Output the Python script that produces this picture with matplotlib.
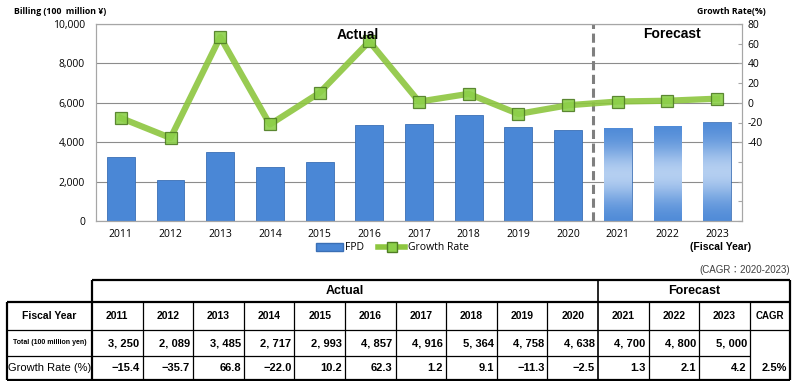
import matplotlib
matplotlib.use("Agg")
import matplotlib.pyplot as plt
import numpy as np
from matplotlib.patches import Patch
from matplotlib.lines import Line2D

years = ["2011", "2012", "2013", "2014", "2015", "2016", "2017",
         "2018", "2019", "2020", "2021", "2022", "2023"]
billing = [3250, 2089, 3485, 2717, 2993, 4857, 4916, 5364, 4758, 4638, 4700, 4800, 5000]
growth = [-15.4, -35.7, 66.8, -22.0, 10.2, 62.3, 1.2, 9.1, -11.3, -2.5, 1.3, 2.1, 4.2]
n_actual = 10
cagr = "2.5%"
left_ticks = [0, 2000, 4000, 6000, 8000, 10000]
right_ticks = [-120, -100, -80, -60, -40, -20, 0, 20, 40, 60, 80]

W, H = 799, 381
fig = plt.figure(figsize=(W / 100, H / 100), dpi=100)

def fx(px):
    return px / W

def fy(py):
    return 1 - py / H

ax = fig.add_axes([fx(96), fy(221), fx(742) - fx(96), fy(24) - fy(221)])
ax2 = ax.twinx()

bar_blue = "#4a87d6"
x = np.arange(len(years))
bars = ax.bar(x, billing, width=0.56, color=bar_blue, edgecolor="#3a6fb5",
              linewidth=0.6, zorder=2)

# forecast bars: vertical gradient (blue ends, pale middle)
grad = np.linspace(0, 1, 256)
shade = 1 - 0.65 * np.exp(-((grad - 0.5) / 0.3) ** 2)
c_dark = np.array([0.29, 0.53, 0.84])
c_light = np.array([0.93, 0.96, 1.0])
img = (c_light[None, :] * (1 - shade[:, None]) + c_dark[None, :] * shade[:, None])
img = img[:, None, :].repeat(4, axis=1)
for i in range(n_actual, len(years)):
    b = bars[i]
    b.set_facecolor("none")
    bx, bw, bh = b.get_x(), b.get_width(), b.get_height()
    im = ax.imshow(img, extent=[bx, bx + bw, 0, bh], aspect="auto", zorder=2,
                   interpolation="bilinear")
    im.set_clip_path(b)

ax.set_xlim(-0.5, len(years) - 0.5)
ax.set_ylim(0, 10000)
ax.set_yticks(left_ticks)
ax.set_yticklabels([f"{v:,}" for v in left_ticks], fontsize=7.5, family="Open Sans")
ax.set_xticks(x)
ax.set_xticklabels(years, fontsize=7.5, family="Open Sans")
ax.tick_params(axis="y", length=0, pad=8)
ax.tick_params(axis="x", length=0, pad=6)
ax.grid(axis="y", color="#8c8c8c", linewidth=0.8, zorder=0)
ax.set_axisbelow(True)
for s in ax.spines.values():
    s.set_color("#a6a6a6")
    s.set_linewidth(0.8)

ax2.plot(x, growth, color="#8dc63f", linewidth=4.5, alpha=0.9, zorder=3,
         marker="s", markersize=9, markerfacecolor="#8cd04a",
         markeredgecolor="#4f7d24", markeredgewidth=0.9)
ax2.set_ylim(-120, 80)
ax2.set_yticks(right_ticks)
ax2.set_yticklabels([str(v) if v >= -40 else "" for v in right_ticks],
                    fontsize=7.5, family="Open Sans")
ax2.tick_params(axis="y", direction="in", length=3, color="#a6a6a6", pad=4)
for s in ax2.spines.values():
    s.set_color("#a6a6a6")
    s.set_linewidth(0.8)

ax.axvline(n_actual - 0.5, color="#7f7f7f", linestyle=(0, (3, 1.5)), linewidth=2.2, zorder=4)

fig.text(fx(358), fy(35), "Actual", fontsize=10, fontweight="bold",
         family="Liberation Sans", ha="center", va="center")
fig.text(fx(672), fy(34), "Forecast", fontsize=10, fontweight="bold",
         family="Liberation Sans", ha="center", va="center")
fig.text(fx(14), fy(12), "Billing (100  million ¥)", fontsize=6.3, fontweight="bold",
         family="Open Sans", ha="left", va="center")
fig.text(fx(766), fy(12), "Growth Rate(%)", fontsize=6.3, fontweight="bold",
         family="Open Sans", ha="right", va="center")
fig.text(fx(751), fy(247), "(Fiscal Year)", fontsize=7.5, fontweight="bold",
         family="Liberation Sans", ha="right", va="center")

handles = [Patch(facecolor=bar_blue, edgecolor="#3a6fb5"),
           Line2D([0], [0], color="#8dc63f", linewidth=4, marker="s", markersize=7,
                  markerfacecolor="#8cd04a", markeredgecolor="#4f7d24")]
fig.legend(handles, ["FPD", "Growth Rate"], loc="center", bbox_to_anchor=(fx(392), fy(248)),
           ncol=2, frameon=False, handlelength=2.6, handletextpad=0.2,
           columnspacing=1.4, prop={"family": "Open Sans", "size": 7.5})

# table drawn in pixel coordinates
tab = fig.add_axes([0, 0, 1, 1])
tab.set_xlim(0, W)
tab.set_ylim(H, 0)
tab.axis("off")

x_left, x_lab, col_w = 7, 92, 50.6
col_x = [x_lab + i * col_w for i in range(len(years) + 1)]
x_right = 790
y_rows = [280, 302, 330, 356, 380]
num_font = "Liberation Sans"

def hline(y, x0, x1, lw=0.9):
    tab.plot([x0, x1], [y, y], color="black", linewidth=lw, solid_capstyle="butt")

def vline(xv, y0, y1, lw=0.9):
    tab.plot([xv, xv], [y0, y1], color="black", linewidth=lw, solid_capstyle="butt")

# outer borders
hline(y_rows[0], x_lab, x_right, 1.6)
hline(y_rows[1], x_left, x_right, 1.6)
hline(y_rows[2], x_left, x_right)
hline(y_rows[3], x_left, col_x[-1])
hline(y_rows[4], x_left, x_right, 1.6)
vline(x_lab, y_rows[0], y_rows[4], 1.6)
vline(x_left, y_rows[1], y_rows[4], 1.6)
vline(x_right, y_rows[0], y_rows[4], 1.6)
vline(col_x[n_actual], y_rows[0], y_rows[4], 1.2)
for i in range(1, len(col_x)):
    if i != n_actual:
        vline(col_x[i], y_rows[1], y_rows[4])

tab.text((x_lab + col_x[n_actual]) / 2, 291, "Actual", fontsize=9, fontweight="bold",
         family="Liberation Sans", ha="center", va="center")
tab.text((col_x[n_actual] + x_right) / 2, 291, "Forecast", fontsize=9, fontweight="bold",
         family="Liberation Sans", ha="center", va="center")
tab.text(x_right, 270, "(CAGR：2020-2023)", fontsize=7, color="#404040",
         family=["Liberation Sans", "Noto Sans CJK JP"], ha="right", va="center")

tab.text((x_left + x_lab) / 2, 316, "Fiscal Year", fontsize=7.5, fontweight="bold",
         family="Liberation Sans", ha="center", va="center")
tab.text((x_left + x_lab) / 2, 343, "Total (100 million yen)", fontsize=5, fontweight="bold",
         family="Liberation Sans", ha="center", va="center")
tab.text((x_left + x_lab) / 2, 368, "Growth Rate (%)", fontsize=8,
         family="Liberation Sans", ha="center", va="center")

for i, yr in enumerate(years):
    cx = (col_x[i] + col_x[i + 1]) / 2
    tab.text(cx, 316, yr, fontsize=7.5, fontweight="bold", family=num_font,
             ha="center", va="center")
    tab.text(col_x[i + 1] - 3, 343, f"{billing[i]:,}".replace(",", ", "), fontsize=8,
             fontweight="bold", family=num_font, ha="right", va="center")
    tab.text(col_x[i + 1] - 3, 368, f"{growth[i]:.1f}".replace("-", "−"), fontsize=8,
             fontweight="bold", family=num_font, ha="right", va="center")

tab.text((col_x[-1] + x_right) / 2, 316, "CAGR", fontsize=7, fontweight="bold",
         family=num_font, ha="center", va="center")
tab.text(x_right - 3, 368, cagr, fontsize=8, fontweight="bold", family=num_font,
         ha="right", va="center")

fig.savefig("out.png", dpi=100)
